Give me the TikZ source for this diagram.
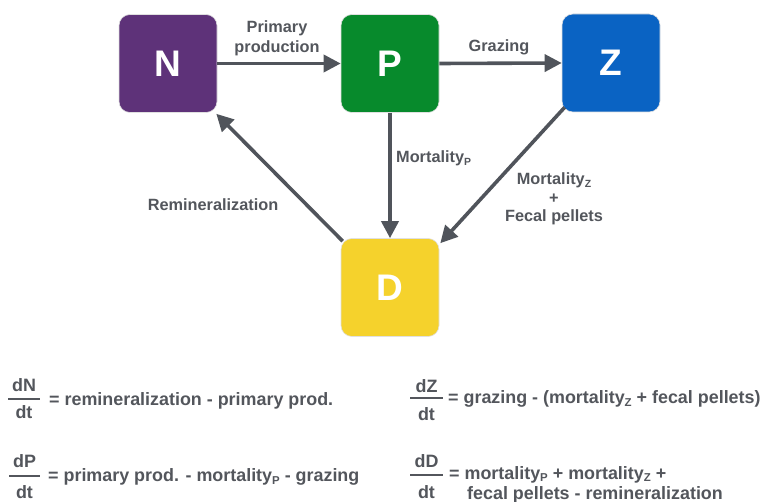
\documentclass[tikz,border=0pt]{standalone}
\usepackage{fontspec}
\setmainfont{Liberation Sans}
\usepackage{graphicx}
\usetikzlibrary{arrows.meta,calc}

\definecolor{ncol}{HTML}{5E3279}
\definecolor{pcol}{HTML}{078A2C}
\definecolor{zcol}{HTML}{0A63C3}
\definecolor{dcol}{HTML}{F5D22C}
\definecolor{flowgray}{HTML}{50545B}
\definecolor{txtgray}{HTML}{53565C}

% small lowered index letter used in the labels
\newcommand\lowsub[1]{\raisebox{-0.14em}{\scalebox{0.64}{#1}}}

\begin{document}
\begin{tikzpicture}[x=1pt,y=-1pt,
  box/.style={rounded corners=11pt, minimum width=98pt, minimum height=98pt,
    inner sep=0pt, text=white, draw=black!12, line width=0.6pt,
    font=\fontsize{37}{37}\selectfont\bfseries},
  flow/.style={draw=flowgray, line width=3.6pt,
    -{Triangle[length=17pt,width=17pt]}},
  lbl/.style={text=txtgray, font=\fontsize{16.3}{20}\selectfont\bfseries,
    align=center, inner sep=0pt},
  eqtxt/.style={text=txtgray, font=\fontsize{17.9}{22}\selectfont\bfseries,
    inner sep=0pt},
  fracrule/.style={draw=txtgray, line width=1.6pt}]

\useasboundingbox (0,0) rectangle (765,502);

% compartments
\node[box, fill=ncol] (N) at (168,63.5) {N};
\node[box, fill=pcol] (P) at (390,63.5) {P};
\node[box, fill=zcol] (Z) at (611,63) {Z};
\node[box, fill=dcol] (D) at (390,287.5) {D};

% fluxes between compartments
\draw[flow] (N.east) -- (P.west);
\draw[flow] (P.east) -- (Z.west);
\draw[flow] (P.south) -- (D.north);
\draw[flow] ($(Z.south west)+(3,-5)$) -- ($(D.north east)+(1,5)$);
\draw[flow] ($(D.north west)+(2,3)$) -- ($(N.south east)+(-1,1)$);

% flux labels
\node[lbl] (lprim) at (277,38) {Primary\\production};
\node[lbl, anchor=base] (lgraz) at (499,52) {Grazing};
\node[lbl, anchor=base west] (lmortp) at (396,163) {Mortality\lowsub{P}};
\node[lbl, anchor=base] (lremin) at (213,211) {Remineralization};
\node[lbl, font=\fontsize{16.3}{18.3}\selectfont\bfseries] (lmortz) at (554,199)
  {Mortality\lowsub{Z}\\+\\Fecal pellets};

% rate equations
\node[eqtxt, anchor=base] (n1) at (24,391) {dN};
\node[eqtxt, anchor=base] (d1) at (24,418) {dt};
\draw[fracrule] (8,399) -- (40,399);
\node[eqtxt, anchor=base west] (e1) at (49,405) {= remineralization - primary prod.};

\node[eqtxt, anchor=base] (n2) at (24.5,467) {dP};
\node[eqtxt, anchor=base] (d2) at (24.5,498) {dt};
\draw[fracrule] (9,476) -- (40,476);
\node[eqtxt, anchor=base west] (e2) at (48,481.5) {= primary prod. - mortality\lowsub{P} - grazing};

\node[eqtxt, anchor=base] (n3) at (426.5,392) {dZ};
\node[eqtxt, anchor=base] (d3) at (426.5,420) {dt};
\draw[fracrule] (410,398) -- (443,398);
\node[eqtxt, anchor=base west] (e3) at (448,403.5) {= grazing - (mortality\lowsub{Z} + fecal pellets)};

\node[eqtxt, anchor=base] (n4) at (426.5,467) {dD};
\node[eqtxt, anchor=base] (d4) at (426.5,498) {dt};
\draw[fracrule] (410,475) -- (443,475);
\node[eqtxt, anchor=base west] (e4a) at (449,479) {= mortality\lowsub{P} + mortality\lowsub{Z} +};
\node[eqtxt, anchor=base west] (e4b) at (467,499) {fecal pellets - remineralization};
\end{tikzpicture}
\end{document}
